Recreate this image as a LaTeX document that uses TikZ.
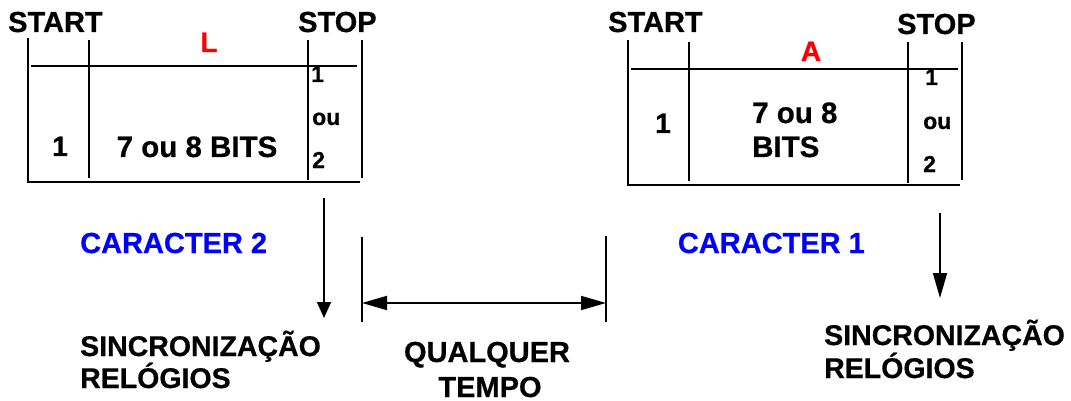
\documentclass[tikz,border=0pt]{standalone}
\usepackage{fontspec}
\setmainfont{Liberation Sans}[BoldFeatures={FakeBold=0.6}]
\usetikzlibrary{arrows.meta}
\definecolor{txtred}{RGB}{255,0,0}
\definecolor{txtblue}{RGB}{0,0,255}
\begin{document}
\begin{tikzpicture}[x=1pt,y=-1pt,
  frame/.style={line width=2.6pt},
  conn/.style={line width=1.8pt},
  txt/.style={inner sep=0pt,font=\bfseries\fontsize{#1}{#1}\selectfont},
  txt/.default=29,
  downarrow/.style={conn,-{Triangle[length=#1,width=14pt]}},
  span/.style={conn,{Triangle[length=25pt,width=14pt]}-{Triangle[length=25pt,width=14pt]}}]
\useasboundingbox (0,0) rectangle (1071,401);

% ---------- character frame 2 (left) ----------
\draw[frame] (28,38) -- (28,182);
\draw[frame] (89,40) -- (89,178);
\draw[frame] (308,40) -- (308,180);
\draw[frame] (362,40) -- (362,178);
\draw[frame] (31,66) -- (357,66);
\draw[frame] (27,182) -- (360,182);

\node[txt,anchor=base west] (startL) at (8,32) {START};
\node[txt,anchor=base west] (stopL) at (298,32) {STOP};
\node[txt=28,anchor=base,text=txtred] (charL) at (209,52) {L};
\node[txt=28,anchor=base] (oneL) at (60,156) {1};
\node[txt=29.5,anchor=base] (bitsL) at (197,157) {7 ou 8 BITS};
\node[txt=23,anchor=base west] (s1L) at (311,82) {1};
\node[txt=23,anchor=base west] (s2L) at (312,125) {ou};
\node[txt=23,anchor=base west] (s3L) at (312,168) {2};

% ---------- character frame 1 (right) ----------
\draw[frame] (628,40) -- (628,186);
\draw[frame] (689,42) -- (689,181);
\draw[frame] (908,42) -- (908,183);
\draw[frame] (962,42) -- (962,180);
\draw[frame] (631,69) -- (958,69);
\draw[frame] (627,185) -- (960,185);

\node[txt,anchor=base west] (startR) at (608,32) {START};
\node[txt,anchor=base west] (stopR) at (897,34) {STOP};
\node[txt=28,anchor=base,text=txtred] (charR) at (811,61) {A};
\node[txt=28,anchor=base] (oneR) at (663,133) {1};
\node[txt=29.5,anchor=base west] (bitsR1) at (752,123) {7 ou 8};
\node[txt=29.5,anchor=base west] (bitsR2) at (752,157) {BITS};
\node[txt=23,anchor=base west] (s1R) at (925,85) {1};
\node[txt=23,anchor=base west] (s2R) at (923,129) {ou};
\node[txt=23,anchor=base west] (s3R) at (923,172) {2};

% ---------- captions ----------
\node[txt,anchor=base west,text=txtblue] (cap2) at (80,253) {CARACTER 2};
\node[txt,anchor=base east,text=txtblue] (cap1) at (865,253) {CARACTER 1};

\node[txt=28.5,anchor=base west] (syncL1) at (80,356) {SINCRONIZAÇÃO};
\node[txt=28.5,anchor=base west] (syncL2) at (80,388) {RELÓGIOS};
\node[txt=28.5,anchor=base west] (syncR1) at (824,345) {SINCRONIZAÇÃO};
\node[txt=28.5,anchor=base west] (syncR2) at (824,378) {RELÓGIOS};
\node[txt,anchor=base] (anyT1) at (487,362) {QUALQUER};
\node[txt,anchor=base] (anyT2) at (490,397) {TEMPO};

% ---------- clock sync arrows ----------
\coordinate (syncTopL) at (324,198);
\coordinate (syncTipL) at (324,318);
\draw[downarrow=16pt] (syncTopL) -- (syncTipL);
\coordinate (syncTopR) at (940,213);
\coordinate (syncTipR) at (940,298);
\draw[downarrow=25pt] (syncTopR) -- (syncTipR);

% ---------- idle time span ----------
\coordinate (gapA) at (362,237);
\coordinate (gapB) at (362,322);
\coordinate (gapC) at (606,236);
\coordinate (gapD) at (606,322);
\draw[conn] (gapA) -- (gapB);
\draw[conn] (gapC) -- (gapD);
\draw[span] (362,303) -- (606,303);
\end{tikzpicture}
\end{document}
